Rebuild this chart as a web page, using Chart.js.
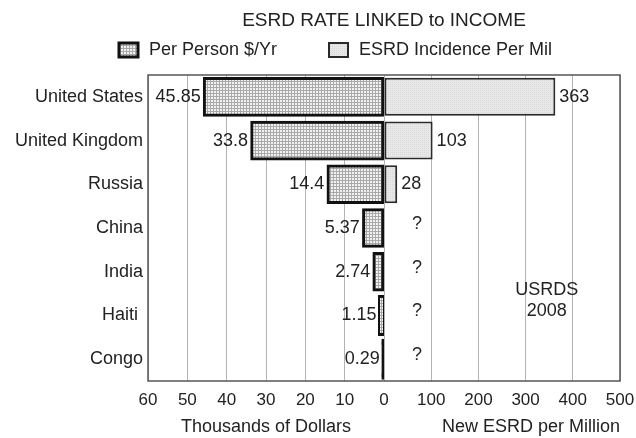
<!DOCTYPE html>
<html>
<head>
<meta charset="utf-8">
<script src="https://cdn.jsdelivr.net/npm/chart.js@4/dist/chart.umd.min.js"></script>
<style>
  html, body { margin: 0; padding: 0; background: #fff; }
  #wrap { width: 636px; height: 438px; }
</style>
</head>
<body>
<div id="wrap"><canvas id="c" width="636" height="438"></canvas></div>
<script>
// Countries, income per person (thousands of US$ / yr) and new ESRD cases per million
const countries = ['United States', 'United Kingdom', 'Russia', 'China', 'India', 'Haiti ', 'Congo'];
const incomeK = [45.85, 33.8, 14.4, 5.37, 2.74, 1.15, 0.29];
const esrdPerMillion = [363, 103, 28, null, null, null, null];
const unknownMark = '?';

const chartTitle = 'ESRD RATE LINKED to INCOME';
const seriesNames = ['Per Person $/Yr', 'ESRD Incidence Per Mil'];
const axisTitles = ['Thousands of Dollars', 'New ESRD per Million'];
const sourceNote = ['USRDS', '2008'];

const FONT = "'Liberation Sans', Arial, Helvetica, sans-serif";
const INK = '#222';

Chart.defaults.font.family = FONT;
Chart.defaults.color = INK;

// Fill textures: fine grid for income, faint stipple for incidence
function texture(size, bg, fg, paint) {
  const c = document.createElement('canvas');
  c.width = c.height = size;
  const g = c.getContext('2d');
  g.fillStyle = bg;
  g.fillRect(0, 0, size, size);
  g.fillStyle = fg;
  paint(g);
  return g.createPattern(c, 'repeat');
}
const gridFill = texture(3, '#f2f2f2', '#a9a9a9', g => { g.fillRect(0, 0, 3, 1); g.fillRect(0, 0, 1, 3); });
const stippleFill = texture(2, '#e8e8e8', '#d9d9d9', g => { g.fillRect(0, 0, 1, 1); });

// Title, legend, frame, value labels and source note
const decorations = {
  id: 'decorations',
  afterDraw(chart) {
    const { ctx, chartArea: a, scales } = chart;
    ctx.save();

    // plot frame
    ctx.strokeStyle = '#555';
    ctx.lineWidth = 1.5;
    ctx.strokeRect(a.left, a.top, a.right - a.left, a.bottom - a.top);

    // title
    ctx.fillStyle = INK;
    ctx.textBaseline = 'middle';
    ctx.textAlign = 'center';
    ctx.font = '19px ' + FONT;
    ctx.fillText(chartTitle, (a.left + a.right) / 2, 21);

    // legend
    ctx.font = '18px ' + FONT;
    ctx.textAlign = 'left';
    const ds = chart.data.datasets;
    const items = [
      { x: 119, w: 19, set: ds[0], fill: gridFill },
      { x: 329, w: 19, set: ds[1], fill: stippleFill }
    ];
    const ly = 50, bh = 14;
    items.forEach(it => {
      ctx.fillStyle = it.fill;
      ctx.fillRect(it.x, ly - bh / 2, it.w, bh);
      ctx.lineWidth = it.set.borderWidth;
      ctx.strokeStyle = it.set.borderColor;
      ctx.strokeRect(it.x, ly - bh / 2, it.w, bh);
      ctx.fillStyle = INK;
      ctx.fillText(it.set.label, it.x + it.w + 11, ly);
    });

    // value labels
    ctx.font = '18px ' + FONT;
    const left = chart.getDatasetMeta(0).data;
    const right = chart.getDatasetMeta(1).data;
    left.forEach((bar, i) => {
      ctx.textAlign = 'right';
      ctx.fillText(String(incomeK[i]), bar.x - 3, bar.y);
    });
    const zeroR = scales.xR.getPixelForValue(0);
    right.forEach((bar, i) => {
      const v = esrdPerMillion[i];
      if (v === null) {
        ctx.textAlign = 'center';
        ctx.fillText(unknownMark, zeroR + 33, left[i].y - 4);
      } else {
        ctx.textAlign = 'left';
        ctx.fillText(String(v), bar.x + 4, bar.y);
      }
    });

    // source note
    ctx.textAlign = 'center';
    const nx = scales.xR.getPixelForValue(345);
    const ny = scales.y.getPixelForValue(4);
    ctx.fillText(sourceNote[0], nx, ny + 18);
    ctx.fillText(sourceNote[1], nx, ny + 39);

    ctx.restore();
  }
};

new Chart(document.getElementById('c'), {
  type: 'bar',
  data: {
    labels: countries,
    datasets: [
      {
        label: seriesNames[0],
        data: incomeK,
        xAxisID: 'xL',
        // very slim bars read as a solid dark stroke
        backgroundColor: c => (c.raw < 1 ? '#111' : gridFill),
        borderColor: '#111',
        borderWidth: 3,
        borderSkipped: false,
        inflateAmount: c => (c.raw < 2 ? 1.5 : 0.8)
      },
      {
        label: seriesNames[1],
        data: esrdPerMillion,
        xAxisID: 'xR',
        backgroundColor: stippleFill,
        borderColor: '#2a2a2a',
        borderWidth: 2,
        borderSkipped: false
      }
    ]
  },
  options: {
    indexAxis: 'y',
    responsive: false,
    devicePixelRatio: 1,
    animation: false,
    events: [],
    grouped: false,
    categoryPercentage: 1,
    barPercentage: 0.87,
    layout: { padding: { top: 75, right: 0, bottom: 0, left: 0 } },
    plugins: {
      legend: { display: false },
      title: { display: false },
      tooltip: { enabled: false }
    },
    scales: {
      y: {
        type: 'category',
        position: 'left',
        grid: { display: false, drawTicks: false },
        border: { display: false },
        ticks: { padding: 5, font: { size: 18 }, color: INK },
        afterFit(s) { s.width = 148; }
      },
      xL: {
        type: 'linear',
        position: 'bottom',
        stack: 'bottomAxes',
        stackWeight: 1,
        reverse: true,
        min: 0,
        max: 60,
        ticks: { stepSize: 10, padding: 9, font: { size: 17 }, color: INK, maxRotation: 0 },
        grid: { color: '#b4b4b4', lineWidth: 1, drawTicks: false },
        border: { display: false },
        title: { display: true, text: axisTitles[0], font: { size: 18 }, color: INK, padding: { top: 7, bottom: 0 } },
        afterFit(s) { s.height = 57; s.paddingRight = 0; }
      },
      xR: {
        type: 'linear',
        position: 'bottom',
        stack: 'bottomAxes',
        stackWeight: 1,
        min: 0,
        max: 500,
        ticks: {
          stepSize: 100, padding: 9, font: { size: 17 }, color: INK, maxRotation: 0,
          // the shared zero is labelled once, by the income axis
          callback: v => (v === 0 ? '' : v)
        },
        grid: { color: '#b4b4b4', lineWidth: 1, drawTicks: false },
        border: { display: false },
        title: { display: true, text: axisTitles[1], align: 'end', font: { size: 18 }, color: INK, padding: { top: 7, bottom: 0 } },
        afterFit(s) { s.height = 57; s.paddingLeft = 0; s.paddingRight = 16; }
      }
    }
  },
  plugins: [decorations]
});
</script>
</body>
</html>
